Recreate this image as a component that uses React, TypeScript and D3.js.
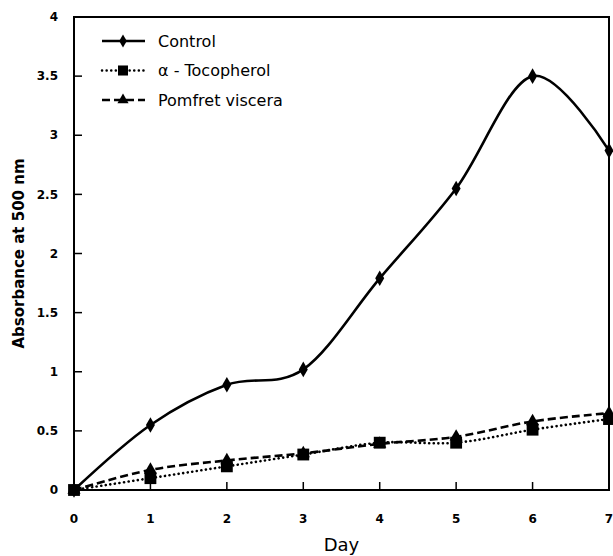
import React from 'react';
import * as d3 from 'd3';

const days = [0, 1, 2, 3, 4, 5, 6, 7];
const control = [0, 0.55, 0.89, 1.02, 1.79, 2.55, 3.5, 2.87];
const tocopherol = [0, 0.1, 0.2, 0.3, 0.4, 0.4, 0.51, 0.6];
const pomfret = [0, 0.17, 0.25, 0.31, 0.39, 0.45, 0.58, 0.65];
const yTicks = [0, 0.5, 1, 1.5, 2, 2.5, 3, 3.5, 4];
const seriesNames = ['Control', 'α - Tocopherol', 'Pomfret viscera'];

const W = 613;
const H = 556;
const margin = { left: 74, top: 17, right: 4, bottom: 66 };

export default function App() {
  const x = d3.scaleLinear().domain([0, 7]).range([margin.left, W - margin.right]);
  const y = d3.scaleLinear().domain([0, 4]).range([H - margin.bottom, margin.top]);

  const line = d3.line<number>()
    .x((_, i) => x(days[i]))
    .y(d => y(d))
    .curve(d3.curveCardinal.tension(0));

  const font = 'DejaVu Sans, Verdana, sans-serif';
  const diamond = d3.symbol(d3.symbolDiamond, 70)();
  const square = d3.symbol(d3.symbolSquare, 140)();
  const triangle = d3.symbol(d3.symbolTriangle, 75)();

  const series = [
    { name: seriesNames[0], values: control, dash: undefined, cap: 'butt', marker: diamond },
    { name: seriesNames[1], values: tocopherol, dash: '0.1 4.5', cap: 'round', marker: square },
    { name: seriesNames[2], values: pomfret, dash: '8 4', cap: 'butt', marker: triangle },
  ];

  const x0 = margin.left, x1 = W - margin.right, y0 = H - margin.bottom, y1 = margin.top;

  return (
    <svg width={W} height={H} style={{ position: 'absolute', left: 0, top: 0, background: '#fff' }}>
      <rect x={x0} y={y1} width={x1 - x0} height={y0 - y1} fill="none" stroke="#000" strokeWidth={2} />
      {yTicks.map(t => (
        <g key={t}>
          <line x1={x0} x2={x0 + 8} y1={y(t)} y2={y(t)} stroke="#000" strokeWidth={1.5} />
          <text x={58} y={y(t)} dy="0.35em" textAnchor="end" fontFamily={font} fontWeight="bold" fontSize={12}>{t}</text>
        </g>
      ))}
      {days.map(d => (
        <g key={d}>
          <line x1={x(d)} x2={x(d)} y1={y0} y2={y0 - 8} stroke="#000" strokeWidth={1.5} />
          <text x={x(d)} y={519} dy="0.35em" textAnchor="middle" fontFamily={font} fontWeight="bold" fontSize={12}>{d}</text>
        </g>
      ))}
      <text x={x((0 + 7) / 2)} y={545} dy="0.35em" textAnchor="middle" fontFamily={font} fontSize={18}>Day</text>
      <text transform={`translate(19,${(y0 + y1) / 2}) rotate(-90)`} dy="0.35em" textAnchor="middle" fontFamily={font} fontWeight="bold" fontSize={15}>Absorbance at 500 nm</text>

      {series.map(s => (
        <g key={s.name}>
          <path d={line(s.values) ?? ''} fill="none" stroke="#000" strokeWidth={2.6} strokeDasharray={s.dash} strokeLinecap={s.cap as any} />
          {s.values.map((v, i) => (
            <path key={i} d={s.marker ?? ''} transform={`translate(${x(days[i])},${y(v)})`} fill="#000" />
          ))}
        </g>
      ))}

      {series.map((s, i) => {
        const ly = 41 + i * 29.5;
        return (
          <g key={'lg' + i}>
            <line x1={102} x2={145} y1={ly} y2={ly} stroke="#000" strokeWidth={2.5} strokeDasharray={s.dash} strokeLinecap={s.cap as any} />
            <path d={s.marker ?? ''} transform={`translate(123,${ly}) scale(0.85)`} fill="#000" />
            <text x={158} y={ly} dy="0.35em" fontFamily={font} fontSize={16}>{s.name}</text>
          </g>
        );
      })}
    </svg>
  );
}
